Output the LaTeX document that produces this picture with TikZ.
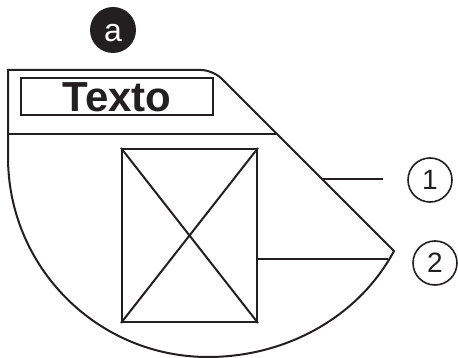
\documentclass[tikz,border=0pt]{standalone}
\usepackage{fontspec}
\setmainfont{Liberation Sans}
\usepackage{tikz}
\definecolor{ink}{HTML}{231F20}
\tikzset{
  frame/.style={draw=ink, line width=2pt, line join=miter},
  lead/.style={draw=ink, line width=2pt},
  tag/.style={circle, fill=ink, text=white, minimum size=46pt, inner sep=0pt,
              font=\fontsize{32}{32}\selectfont, text height=24pt, text depth=0pt},
  num/.style={circle, draw=ink, line width=1.6pt, minimum size=44pt, inner sep=0pt,
              font=\fontsize{28}{28}\selectfont, text=ink},
  titlebox/.style={draw=ink, line width=1.8pt, minimum width=192pt, minimum height=37pt, inner sep=0pt,
                   font=\fontsize{42}{42}\selectfont\bfseries, text=ink, text height=30.5pt, text depth=0pt},
  imgbox/.style={draw=ink, line width=2pt, minimum width=135pt, minimum height=173pt, inner sep=0pt}
}

\begin{document}
\begin{tikzpicture}[x=1pt, y=-1pt]
\useasboundingbox (0,0) rectangle (458,358);
% outline of the screen
\coordinate (crn) at (213,70); \coordinate (tip) at (394,251);
\draw[frame] (8,157) -- (8,70) [rounded corners=12pt]-- (crn) [sharp corners]-- (tip)
  .. controls (358,318) and (285,357) .. (208,357) arc[start angle=90, end angle=180, radius=200] -- cycle;
\coordinate (d0) at (8,134); \coordinate (d1) at (277,134);
\draw[lead] (d0) -- (d1);
% header and picture
\node[tag] (a) at (113,30) {a};
\node[titlebox] (title) at (117,96.5) {Texto};
\node[imgbox] (img) at (189.5,235.5) {};
\draw[lead] (img.north west) -- (img.south east) (img.north east) -- (img.south west);
% callouts
\node[num] (n1) at (430,180) {1};
\node[num] (n2) at (435,263) {2};
\coordinate (s1) at (322,179); \coordinate (e1) at (383,179); \coordinate (s2) at (388,259);
\draw[lead] (s1) -- (e1); \draw[lead] (img.east |- s2) -- (s2);
\end{tikzpicture}
\end{document}
